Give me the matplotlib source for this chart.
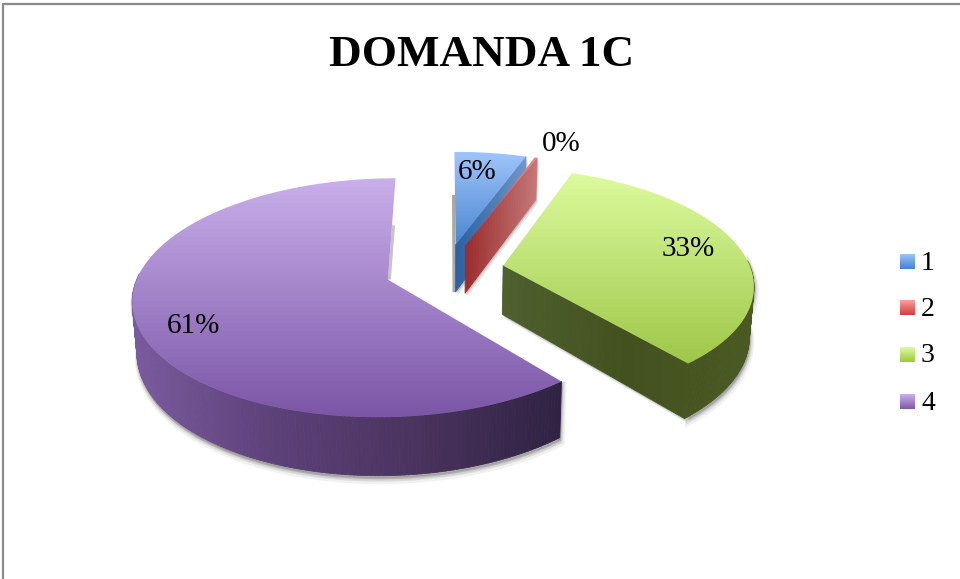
import numpy as np
import matplotlib
matplotlib.use("Agg")
import matplotlib.pyplot as plt
from matplotlib.collections import PolyCollection
from matplotlib.colors import LinearSegmentedColormap, to_rgb
from matplotlib.patches import Polygon

# data
categories = ["1", "2", "3", "4"]
values = [5.5, 0.2, 33.3, 61.0]
title = "DOMANDA 1C"
explode = [0.234, 0.234, 0.235, 0.246]

top_colors = [("#9fc5fb", "#4a86d0"), ("#e88a8a", "#b03a3a"),
              ("#dcfb9e", "#9fc749"), ("#c9afeb", "#7b56a6")]
side_colors = [["#2a5f9f", "#6f96c8"], ["#9b2d2d", "#c57878"],
               ["#4f5f2f", "#43511f", "#4a5a22"],
               ["#7a5a9e", "#5c4078", "#4a335e", "#2f2242"]]
legend_colors = [("#9cc3fa", "#4583d0"), ("#ff9c9c", "#cf4040"),
                 ("#dcfb9e", "#a0c840"), ("#c9afeb", "#8058a8")]
label_pos = [(477, 172), (561, 144), (688, 249), (193, 326)]

# projection of the tilted disc onto the page
CX, CY, A, B, P, DEPTH = 446.0, 270.0, 248.0, 113.8, 0.15, 49.0
STRIPS = 24


def project(u, v, down=False):
    w = 1 + P * v
    scale = 0.985 if down else 1.0
    x = CX + A * u / w * scale
    y = CY - B * v / w + (DEPTH / w if down else 0)
    return x, y


fig = plt.figure(figsize=(9.6, 5.79), dpi=100)
ax = fig.add_axes([0, 0, 1, 1])
ax.set_xlim(0, 960)
ax.set_ylim(579, 0)
ax.axis("off")

# chart frame
ax.plot([3, 3, 960], [579, 4, 4], color="#8a8a8a", lw=1.6, zorder=1)

z = 5
fractions = np.array(values) / sum(values)
starts = np.concatenate([[0], np.cumsum(fractions)[:-1]]) * 2 * np.pi
order = [3, 0, 1, 2]

for i in order:
    a0 = starts[i]
    a1 = a0 + fractions[i] * 2 * np.pi
    mid = (a0 + a1) / 2
    ou, ov = explode[i] * np.sin(mid), explode[i] * np.cos(mid)
    t = np.linspace(a0, a1, max(4, int((a1 - a0) * 70)))
    s_out = np.linspace(0, 1, STRIPS + 1)[:-1]
    s_back = np.linspace(1, 0, STRIPS + 1)[1:]
    u = np.concatenate([ou + s_out * np.sin(a0), ou + np.sin(t), ou + s_back * np.sin(a1)])
    v = np.concatenate([ov + s_out * np.cos(a0), ov + np.cos(t), ov + s_back * np.cos(a1)])
    xt, yt = project(u, v)
    xb, yb = project(u, v, down=True)
    n = len(xt) - 1
    last_cut = range(n - STRIPS, n)
    arc = range(STRIPS, n - STRIPS)

    def quad(j):
        return [(xt[j], yt[j]), (xt[j + 1], yt[j + 1]),
                (xb[j + 1], yb[j + 1]), (xb[j], yb[j])]

    def cut_face(r):
        return np.array([quad(r[0])[0], quad(r[-1])[1], quad(r[-1])[2], quad(r[0])[3]])

    # soft shadow below the slice
    front = [j for j in arc if np.cos(t[j - STRIPS:j - STRIPS + 2].mean()) < 0.05]
    if front:
        lower = np.array([(xb[j], yb[j]) for j in front])
        upper = np.array([(xt[j], yt[j]) for j in front])
        band = np.vstack([upper, lower[::-1]])
        for grow, alpha in [(5, 0.07), (3.5, 0.10), (2, 0.16)]:
            ax.add_patch(Polygon(band + [0.3 * grow, grow], closed=True,
                                 fc="#404040", ec="#404040", lw=grow,
                                 alpha=alpha, zorder=z))
    if i == 0:
        m = STRIPS // 2
        ax.add_patch(Polygon([(xt[m], yt[m]), (xb[0], yb[0]), (xb[0] - 3, yb[0]),
                              (xt[m] - 3, yt[m])], closed=True,
                             fc="#404040", ec="none", alpha=0.45, zorder=z))
    if i == 3:
        m = n - STRIPS // 2
        ax.add_patch(Polygon([(xt[m], yt[m]), (xt[n], yt[n]), (xt[n] + 3, yt[n]),
                              (xt[m] + 3, yt[m])], closed=True,
                             fc="#404040", ec="none", alpha=0.3, zorder=z))
    else:
        for grow, alpha in [(4, 0.12), (2, 0.2)]:
            ax.add_patch(Polygon(cut_face(last_cut) + [0.5 * grow, grow], closed=True,
                                 fc="#404040", ec="none", alpha=alpha, zorder=z))
    z += 1

    # walls
    cmap = LinearSegmentedColormap.from_list("side", side_colors[i])
    x0, x1 = min(xt.min(), xb.min()), max(xt.max(), xb.max())
    walls = list(last_cut) if i != 3 else []
    walls += front
    quads = [quad(j) for j in walls]
    cols = [cmap((np.mean([xt[j], xt[j + 1]]) - x0) / (x1 - x0)) for j in walls]
    ax.add_collection(PolyCollection(quads, facecolors=cols, edgecolors=cols,
                                     linewidths=0.6, zorder=z))
    z += 1

    # top face with a vertical gradient, clipped to the slice
    c0, c1 = map(to_rgb, top_colors[i])
    grad = np.linspace(c0, c1, 256)[:, None, :]
    im = ax.imshow(grad, extent=[xt.min(), xt.max(), yt.max(), yt.min()],
                   aspect="auto", zorder=z, interpolation="bilinear")
    clip = Polygon(np.column_stack([xt, yt]), closed=True, transform=ax.transData)
    im.set_clip_path(clip)
    z += 1

font = ["Liberation Serif", "DejaVu Serif"]
ax.text(482, 55, title, ha="center", va="center", family=font,
        fontweight="bold", fontsize=32.5, color="black", zorder=40)
for val, (lx, ly) in zip(values, label_pos):
    ax.text(lx, ly, f"{val:.0f}%", ha="center", va="center", family=font,
            fontsize=21, color="black", zorder=40)

# legend
for cat, (c0, c1), ly in zip(categories, legend_colors, [262, 308, 355, 402]):
    grad = np.linspace(to_rgb(c0), to_rgb(c1), 32)[:, None, :]
    ax.imshow(grad, extent=[900, 915, ly + 7.5, ly - 7.5], aspect="auto", zorder=40)
    ax.text(921, ly + 1, cat, ha="left", va="center", family=font, fontsize=20,
            color="black", zorder=40)

ax.set_xlim(0, 960)
ax.set_ylim(579, 0)
fig.savefig("out.png", dpi=100)
